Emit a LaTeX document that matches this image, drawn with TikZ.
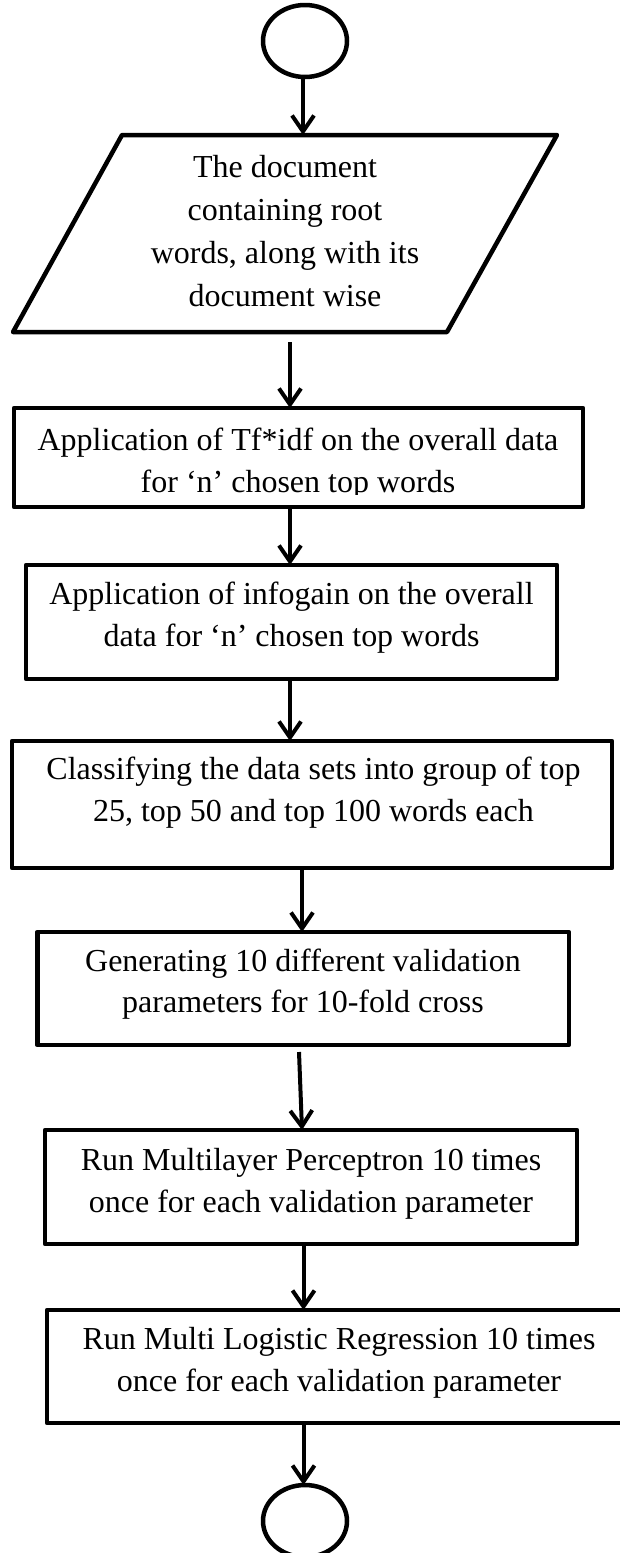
\documentclass[tikz,border=0pt]{standalone}
\usepackage{fontspec}
\setmainfont{Liberation Serif}
\usetikzlibrary{arrows.meta,shapes.geometric}
\begin{document}
\begin{tikzpicture}[x=1pt,y=-1pt,
  shp/.style={draw=black, line width=4.5pt, line join=round},
  box/.style={shp, rectangle, inner sep=0pt, outer sep=0pt},
  term/.style={shp, ellipse, minimum width=84pt, minimum height=72pt, inner sep=0pt, outer sep=0pt},
  txt/.style={align=center, inner sep=0pt, font=\fontsize{32pt}{41.5pt}\selectfont},
  arr/.style={draw=black, line width=4pt, -{Straight Barb[length=16pt,width=22pt]}},
]
\useasboundingbox (0,0) rectangle (620,1553);
\clip (0,0) rectangle (620,1553);

% arrow x positions
\coordinate (ax1) at (303,0);
\coordinate (ax2) at (290,0);
\coordinate (ax3) at (302,0);
\coordinate (ax4) at (303.5,0);

% terminals
\node[term] (start) at (305,41) {};
\node[term] (stop) at (305,1521) {};

% input parallelogram
\draw[shp] (122,135) -- (557,135) -- (447,332) -- (13,332) -- cycle;
\coordinate (pTop) at (303,135);
\coordinate (pBot) at (290,342);
\node[txt, font=\fontsize{32pt}{42.7pt}\selectfont] (inp) at (285,231)
  {The document\\containing root\\words, along with its\\document wise};

% process boxes
\node[box, minimum width=569pt, minimum height=99pt] (tf) at (298.5,457.5) {};
\begin{scope}
  \clip (0,400) rectangle (620,494);
  \node[txt] (tftxt) at (298,463.5) {Application of Tf*idf on the overall data\\for ‘n’ chosen top words};
\end{scope}

\node[box, minimum width=531pt, minimum height=114pt] (ig) at (291.5,622) {};
\node[txt] (igtxt) at (291.5,617.5) {Application of infogain on the overall\\data for ‘n’ chosen top words};

\node[box, minimum width=600pt, minimum height=127pt] (cl) at (312,804.5) {};
\node[txt] (cltxt) at (313.5,792.5) {Classifying the data sets into group of top\\25, top 50 and top 100 words each};

\node[box, minimum width=531.5pt, minimum height=113pt] (gen) at (303,988.5) {};
\node[txt] (gentxt) at (303,984) {Generating 10 different validation\\parameters for 10-fold cross};

\node[box, minimum width=532pt, minimum height=114pt] (mlp) at (311,1187) {};
\node[txt] (mlptxt) at (311,1184) {Run Multilayer Perceptron 10 times\\once for each validation parameter};

\node[box, minimum width=593pt, minimum height=113pt] (mlr) at (343.5,1366.5) {};
\node[txt] (mlrtxt) at (339,1363) {Run Multi Logistic Regression 10 times\\once for each validation parameter};

% connectors
\draw[arr] (start.south -| ax1) -- (pTop);
\draw[arr] (pBot) -- (tf.north -| ax2);
\draw[arr] (tf.south -| ax2) -- (ig.north -| ax2);
\draw[arr] (ig.south -| ax2) -- (cl.north -| ax2);
\draw[arr] (cl.south -| ax3) -- (gen.north -| ax3);
\coordinate (gOut) at (299,1052);
\draw[arr] (gOut) -- (mlp.north -| ax3);
\draw[arr] (mlp.south -| ax4) -- (mlr.north -| ax4);
\draw[arr] (mlr.south -| ax4) -- (stop.north -| ax4);
\end{tikzpicture}
\end{document}
